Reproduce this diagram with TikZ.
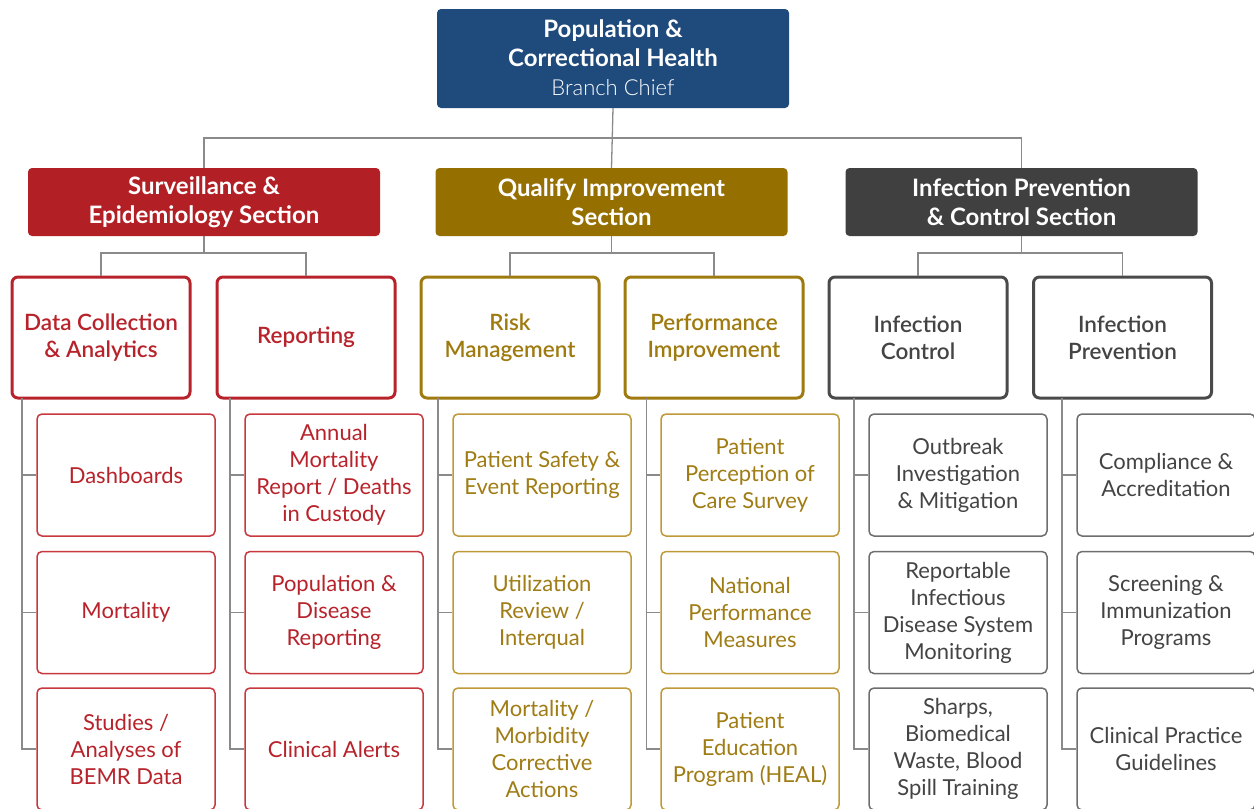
\documentclass[tikz,border=0pt]{standalone}
\usepackage{fontspec}
\setmainfont{Lato}
\newfontfamily\semi{Lato Semibold}
\newfontfamily\lite{Lato Light}
\usetikzlibrary{calc}
\definecolor{cblue}{HTML}{1F4A7C}
\definecolor{cred}{HTML}{B21F24}
\definecolor{credt}{HTML}{B8232B}
\definecolor{credl}{HTML}{C8383E}
\definecolor{cgold}{HTML}{957000}
\definecolor{cgoldb}{HTML}{9E7A0F}
\definecolor{cgoldl}{HTML}{C09A3A}
\definecolor{cgoldt}{HTML}{A07C14}
\definecolor{cgray}{HTML}{404040}
\definecolor{cgrayb}{HTML}{4A4A4A}
\definecolor{cgrayl}{HTML}{6E6E6E}
\definecolor{cgrayt}{HTML}{444444}
\definecolor{cline}{HTML}{8A8A8A}
\tikzset{
  x=1pt, y=-1pt,
  topbox/.style={fill=cblue, rounded corners=4pt, minimum width=352pt, minimum height=99pt, inner sep=0pt, text=white, align=center},
  sect/.style={fill=#1, rounded corners=4pt, minimum width=352pt, minimum height=68pt, inner sep=0pt, text=white, align=center, font=\bfseries\fontsize{24}{29}\selectfont},
  subbox/.style={draw=#1, line width=3pt, rounded corners=6pt, fill=white, minimum width=178pt, minimum height=121pt, inner sep=0pt, align=center, font=\semi\fontsize{22.5}{27}\selectfont},
  leaf/.style={draw=#1, line width=1.5pt, rounded corners=5pt, fill=white, minimum width=178pt, minimum height=122pt, inner sep=0pt, align=center, font=\fontsize{22}{27}\selectfont},
  conn/.style={draw=cline, line width=1.3pt}
}
\begin{document}
\begin{tikzpicture}
\useasboundingbox (0,0) rectangle (1254,809);
% top
\node[topbox] (top) at (613,58.5) {};
\node[text=white, font=\bfseries\fontsize{24}{29}\selectfont, align=center] (toptxt) at (613,43) {Population \&\\Correctional Health};
\node[text=white, font=\lite\fontsize{22}{24}\selectfont] (chief) at (613,88) {Branch Chief};
% sections
\node[sect=cred] (sS) at (204,202) {Surveillance \&\\Epidemiology Section};
\node[sect=cgold] (sQ) at (611.5,202) {Qualify Improvement\\Section};
\node[sect=cgray] (sI) at (1021.5,202) {Infection Prevention\\\& Control Section};
% sub heads
\node[subbox=credt, text=credt] (dc) at (101,337.5) {Data Collection\\\& Analytics};
\node[subbox=credt, text=credt] (rp) at (306,337.5) {Reporting};
\node[subbox=cgoldb, text=cgoldb] (rm) at (510,337.5) {Risk\\Management};
\node[subbox=cgoldb, text=cgoldb] (pi) at (714,337.5) {Performance\\Improvement};
\node[subbox=cgrayb, text=cgrayt] (ic) at (918,337.5) {Infection\\Control};
\node[subbox=cgrayb, text=cgrayt] (ip) at (1122.5,337.5) {Infection\\Prevention};
% leaves
\node[leaf=credl, text=credt] (a1) at (126,475) {Dashboards};
\node[leaf=credl, text=credt] (a2) at (126,612.5) {Mortality};
\node[leaf=credl, text=credt] (a3) at (126,749) {Studies /\\Analyses of\\BEMR Data};
\node[leaf=credl, text=credt] (b1) at (334,475) {Annual\\Mortality\\Report / Deaths\\in Custody};
\node[leaf=credl, text=credt] (b2) at (334,612.5) {Population \&\\Disease\\Reporting};
\node[leaf=credl, text=credt] (b3) at (334,749) {Clinical Alerts};
\node[leaf=cgoldl, text=cgoldt] (c1) at (542,475) {Patient Safety \&\\Event Reporting};
\node[leaf=cgoldl, text=cgoldt] (c2) at (542,612.5) {Utilization\\Review /\\Interqual};
\node[leaf=cgoldl, text=cgoldt] (c3) at (542,749) {Mortality /\\Morbidity\\Corrective\\Actions};
\node[leaf=cgoldl, text=cgoldt] (d1) at (750,475) {Patient\\Perception of\\Care Survey};
\node[leaf=cgoldl, text=cgoldt] (d2) at (750,612.5) {National\\Performance\\Measures};
\node[leaf=cgoldl, text=cgoldt] (d3) at (750,749) {Patient\\Education\\Program (HEAL)};
\node[leaf=cgrayl, text=cgrayt] (e1) at (958,475) {Outbreak\\Investigation\\\& Mitigation};
\node[leaf=cgrayl, text=cgrayt] (e2) at (958,612.5) {Reportable\\Infectious\\Disease System\\Monitoring};
\node[leaf=cgrayl, text=cgrayt] (e3) at (958,749) {Sharps,\\Biomedical\\Waste, Blood\\Spill Training};
\node[leaf=cgrayl, text=cgrayt] (f1) at (1166,475) {Compliance \&\\Accreditation};
\node[leaf=cgrayl, text=cgrayt] (f2) at (1166,612.5) {Screening \&\\Immunization\\Programs};
\node[leaf=cgrayl, text=cgrayt] (f3) at (1166,749) {Clinical Practice\\Guidelines};
% connectors: top to sections
\coordinate (h1) at (0,138);
\coordinate (h2) at (0,253);
\draw[conn] (top.south) -- (sQ.north);
\draw[conn] (sS.north) |- (sI.north |- h1) -- (sI.north);
% sections to subheads
\draw[conn] (sS.south) -- (sS.south |- h2);
\draw[conn] (dc.north) |- (rp.north |- h2) -- (rp.north);
\draw[conn] (sQ.south) -- (sQ.south |- h2);
\draw[conn] (rm.north) |- (pi.north |- h2) -- (pi.north);
\draw[conn] (sI.south) -- (sI.south |- h2);
\draw[conn] (ic.north) |- (ip.north |- h2) -- (ip.north);
% subheads to leaves
\foreach \l/\x in {a/22, b/230, c/438, d/646.5, e/854, f/1062}{
  \coordinate (v\l) at (\x,398);
  \draw[conn] (v\l) |- (\l3.west);
  \draw[conn] (v\l |- \l1.west) -- (\l1.west);
  \draw[conn] (v\l |- \l2.west) -- (\l2.west);
}
\end{tikzpicture}
\end{document}
